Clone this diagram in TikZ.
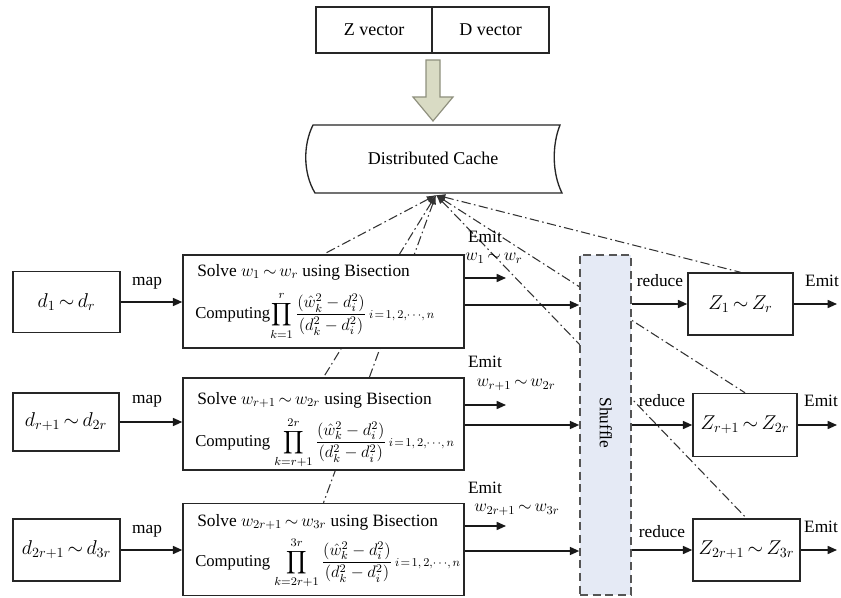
\RequirePackage{fix-cm}
\documentclass[tikz,border=0pt]{standalone}
\usepackage{amsmath}
\usepackage{fontspec}
\setmainfont{Liberation Serif}
\usetikzlibrary{arrows.meta,backgrounds,calc}
\newcommand\pxu{0.75pt}
\definecolor{olivefill}{HTML}{D9DBC4}
\definecolor{olivedraw}{HTML}{8F907E}
\definecolor{shufill}{HTML}{E5EAF5}
\definecolor{shudraw}{HTML}{555555}
\begin{document}
\begin{tikzpicture}[x=0.75pt,y=-0.75pt,
  box/.style={draw=black!85, line width=1.1pt, fill=white, inner sep=0pt},
  arr/.style={-{Triangle[length=7pt,width=6pt]}, line width=1.2pt, draw=black!90},
  dd/.style={draw=black!80, line width=0.8pt, dash pattern=on 7pt off 2.5pt on 1.2pt off 2.5pt},
  lbl/.style={font=\fontsize{13}{15}\selectfont, inner sep=0pt},
  mtxt/.style={font=\fontsize{13}{15}\selectfont, inner sep=0pt, anchor=west},
  ctxt/.style={font=\fontsize{12.5}{14}\selectfont, inner sep=0pt, anchor=west},
  bigm/.style={font=\fontsize{15}{17}\selectfont},
]
\useasboundingbox (0,0) rectangle (841,598);

% top vectors
\node[box, minimum width=116*\pxu, minimum height=46*\pxu, font=\fontsize{13.5}{15}\selectfont] (zv) at (374,30) {Z vector};
\node[box, minimum width=117*\pxu, minimum height=46*\pxu, font=\fontsize{13.5}{15}\selectfont] (dv) at (490.5,30) {D vector};

% big arrow
\coordinate (bat) at (433,121);
\draw[fill=olivefill, draw=olivedraw, line width=0.9pt]
  ($(bat)+(-7,-61)$) -- ($(bat)+(7,-61)$) -- ($(bat)+(7,-24)$) -- ($(bat)+(20,-24)$)
  -- (bat) -- ($(bat)+(-20,-24)$) -- ($(bat)+(-7,-24)$) -- cycle;

% distributed cache
\draw[line width=1pt, draw=black!85, fill=white] (313,125) -- (560,125)
  .. controls (552,145) and (552,173) .. (562,193) -- (315,193)
  .. controls (303,173) and (303,145) .. (313,125) -- cycle;
\node[lbl, font=\fontsize{13.5}{15}\selectfont] (cache) at (433,158) {Distributed Cache};
\coordinate (cb) at (436,195);

% input boxes
\node[box, minimum width=107*\pxu, minimum height=61*\pxu, bigm] (in1) at (66.5,302) {$d_1{\,\sim\,}d_r$};
\node[box, minimum width=106*\pxu, minimum height=58*\pxu, bigm] (in2) at (66,422) {$d_{r+1}{\,\sim\,}d_{2r}$};
\node[box, minimum width=107*\pxu, minimum height=62*\pxu, bigm] (in3) at (66.5,550) {$d_{2r+1}{\,\sim\,}d_{3r}$};

% mapper boxes
\node[box, minimum width=281*\pxu, minimum height=93*\pxu] (m1) at (323.5,301.5) {};
\node[box, minimum width=281*\pxu, minimum height=92*\pxu] (m2) at (323.5,424) {};
\node[box, minimum width=281*\pxu, minimum height=92*\pxu] (m3) at (323.5,549.5) {};

\node[mtxt] (s1) at (197,272) {Solve $w_1{\,\sim\,}w_r$ using Bisection};
\node[ctxt] (c1) at (195,316) {Computing$\displaystyle\prod_{\scriptstyle k=1}^{\scriptstyle r}\frac{(\hat{w}_k^2-d_i^2)}{(d_k^2-d_i^2)}$\,{\small$i\!=\!1,2,\!\cdots\!,n$}};
\node[mtxt] (s2) at (197,400) {Solve $w_{r+1}{\,\sim\,}w_{2r}$ using Bisection};
\node[ctxt] (c2) at (195,443) {Computing $\displaystyle\prod_{\scriptstyle k=r+1}^{\scriptstyle 2r}\frac{(\hat{w}_k^2-d_i^2)}{(d_k^2-d_i^2)}$\,{\small$i\!=\!1,2,\!\cdots\!,n$}};
\node[mtxt] (s3) at (197,522) {Solve $w_{2r+1}{\,\sim\,}w_{3r}$ using Bisection};
\node[ctxt] (c3) at (195,563) {Computing $\displaystyle\prod_{\scriptstyle k=2r+1}^{\scriptstyle 3r}\frac{(\hat{w}_k^2-d_i^2)}{(d_k^2-d_i^2)}$\,{\small$i\!=\!1,2,\!\cdots\!,n$}};

% shuffle
\node[draw=shudraw, fill=shufill, line width=1.2pt, dash pattern=on 6pt off 3.5pt,
  minimum width=51*\pxu, minimum height=340*\pxu, inner sep=0pt] (sh) at (605.5,425) {};
\node[lbl, font=\fontsize{13}{15}\selectfont, rotate=-90] (shl) at (606,423) {Shuffle};

% reducer boxes
\node[box, minimum width=105*\pxu, minimum height=62*\pxu, bigm] (z1) at (740.5,304) {$Z_1{\,\sim\,}Z_r$};
\node[box, minimum width=104*\pxu, minimum height=63*\pxu, bigm] (z2) at (745,425) {$Z_{r+1}{\,\sim\,}Z_{2r}$};
\node[box, minimum width=107*\pxu, minimum height=62*\pxu, bigm] (z3) at (746.5,550) {$Z_{2r+1}{\,\sim\,}Z_{3r}$};

% map arrows
\draw[arr] (in1.east) -- (in1.east -| m1.west);
\draw[arr] (in2.east) -- (in2.east -| m2.west);
\draw[arr] (in3.east) -- (in3.east -| m3.west);
\node[lbl] (map1) at (147,283) {map};
\node[lbl] (map2) at (147,401) {map};
\node[lbl] (map3) at (147,531) {map};

% emit arrows from mappers
\coordinate (e1) at (506,278);
\coordinate (e2) at (506,405);
\coordinate (e3) at (506,526);
\draw[arr] (e1 -| m1.east) -- (e1);
\draw[arr] (e2 -| m2.east) -- (e2);
\draw[arr] (e3 -| m3.east) -- (e3);
\node[lbl] (em1) at (485,237) {Emit};
\node[lbl] (ew1) at (494,258) {$w_1{\,\sim\,}w_r$};
\node[lbl] (em2) at (485,362) {Emit};
\node[lbl] (ew2) at (516,385) {$w_{r+1}{\,\sim\,}w_{2r}$};
\node[lbl] (em3) at (485,488) {Emit};
\node[lbl] (ew3) at (517,510) {$w_{2r+1}{\,\sim\,}w_{3r}$};

% long arrows to shuffle
\draw[arr] (m1.east) ++(0,3.5) coordinate (l1) -- (l1 -| sh.west);
\draw[arr] (m2.east) ++(0,1) coordinate (l2) -- (l2 -| sh.west);
\draw[arr] (m3.east) ++(0,1.5) coordinate (l3) -- (l3 -| sh.west);

% reduce arrows
\draw[arr] (z1.west -| sh.east) -- (z1.west);
\draw[arr] (z2.west -| sh.east) -- (z2.west);
\draw[arr] (z3.west -| sh.east) -- (z3.west);
\node[lbl] (r1) at (660,281) {reduce};
\node[lbl] (r2) at (662,401) {reduce};
\node[lbl] (r3) at (662,532) {reduce};

% emit arrows from reducers
\coordinate (o1) at (837,304);
\coordinate (o2) at (837,425);
\coordinate (o3) at (837,550);
\draw[arr] (z1.east) -- (o1);
\draw[arr] (z2.east) -- (o2);
\draw[arr] (z3.east) -- (o3);
\node[lbl] (oe1) at (822,281) {Emit};
\node[lbl] (oe2) at (821,401) {Emit};
\node[lbl] (oe3) at (821,527) {Emit};

% dash-dot lines from the cache
\begin{pgfonlayer}{background}
\foreach \t in {m1.north, m2.north, m3.north, z1.north, z2.north, z3.north}
  \draw[dd, {Latex[length=7pt,width=5pt]}-] (cb) -- (\t);
\end{pgfonlayer}
\end{tikzpicture}
\end{document}
